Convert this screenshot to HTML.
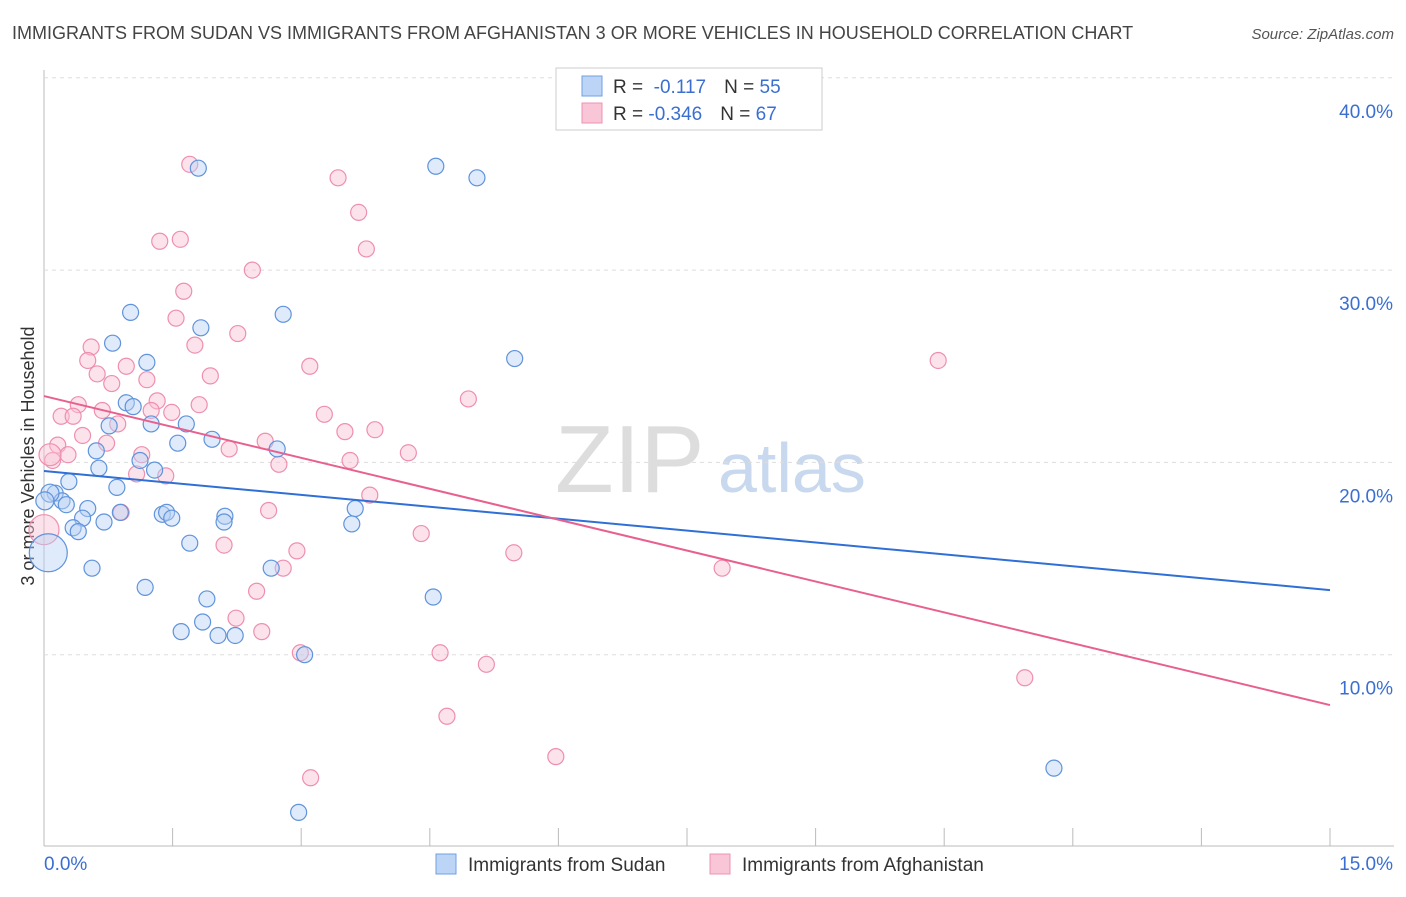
<!DOCTYPE html>
<html><head><meta charset="utf-8"><style>
body{margin:0;background:#fff;font-family:"Liberation Sans",sans-serif}
svg text{font-family:"Liberation Sans",sans-serif}
</style></head><body>
<svg id="c" width="1406" height="892">
<text x="12" y="39" font-size="18" fill="#444">IMMIGRANTS FROM SUDAN VS IMMIGRANTS FROM AFGHANISTAN 3 OR MORE VEHICLES IN HOUSEHOLD CORRELATION CHART</text>
<text x="1394" y="39" font-size="15" fill="#555" font-style="italic" text-anchor="end">Source: ZipAtlas.com</text>
<text x="0" y="0" transform="translate(34,456) rotate(-90)" font-size="18" fill="#333" text-anchor="middle">3 or more Vehicles in Household</text>
<text x="555" y="492" font-size="96" fill="#ddd" font-family="Liberation Serif">ZIP</text>
<text x="718" y="492" font-size="70" fill="#c8d8ee">atlas</text>
<g id="grid"></g><g id="marks"></g>
<g>
<rect x="556" y="68" width="266" height="62" fill="#fff" stroke="#ccc"/>
<rect x="582" y="76" width="20" height="20" fill="#bcd4f5" stroke="#6f9fe0"/>
<rect x="582" y="103" width="20" height="20" fill="#f8c6d6" stroke="#ee93b1"/>
<text x="613" y="93" font-size="19" fill="#333">R = <tspan fill="#3a6fd1">&#160;-0.117</tspan><tspan dx="18" fill="#333">N = </tspan><tspan fill="#3a6fd1">55</tspan></text>
<text x="613" y="120" font-size="19" fill="#333">R = <tspan fill="#3a6fd1">-0.346</tspan><tspan dx="18" fill="#333">N = </tspan><tspan fill="#3a6fd1">67</tspan></text>
</g>
<g>
<rect x="436" y="854" width="20" height="20" fill="#bcd4f5" stroke="#6f9fe0"/>
<text x="468" y="871" font-size="19" fill="#333">Immigrants from Sudan</text>
<rect x="710" y="854" width="20" height="20" fill="#f8c6d6" stroke="#ee93b1"/>
<text x="742" y="871" font-size="19" fill="#333">Immigrants from Afghanistan</text>
</g>
</svg>
<script>
const xTicks=[0,1.5,3,4.5,6,7.5,9,10.5,12,13.5,15];
const yTicks=[10,20,30,40];
const sudanX=[1.80,4.57,5.05,1.01,2.79,0.80,1.83,1.20,5.49,0.96,1.04,0.76,1.25,1.66,1.96,1.56,2.72,0.61,1.12,0.64,1.29,0.29,0.85,0.13,0.21,0.26,0.51,0.45,0.89,1.38,1.43,1.49,2.11,2.10,3.63,3.59,0.34,0.40,0.70,1.70,0.56,2.65,1.18,1.90,4.54,1.60,1.85,2.03,2.23,3.04,11.78,2.97,0.05,0.07,0.01];
const sudanY=[35.3,35.4,34.8,27.8,27.7,26.2,27.0,25.2,25.4,23.1,22.9,21.9,22.0,22.0,21.2,21.0,20.7,20.6,20.1,19.7,19.6,19.0,18.7,18.4,18.0,17.8,17.6,17.1,17.4,17.3,17.4,17.1,17.2,16.9,17.6,16.8,16.6,16.4,16.9,15.8,14.5,14.5,13.5,12.9,13.0,11.2,11.7,11.0,11.0,10.0,4.1,1.8,15.3,18.4,18.0];
const sudanR=[8,8,8,8,8,8,8,8,8,8,8,8,8,8,8,8,8,8,8,8,8,8,8,8,8,8,8,8,8,8,8,8,8,8,8,8,8,8,8,8,8,8,8,8,8,8,8,8,8,8,8,8,19,9,9];
const afgX=[1.70,3.43,3.67,1.35,1.59,3.76,2.43,1.63,1.54,2.26,1.76,0.55,0.51,0.96,3.10,10.43,0.62,1.94,1.20,0.79,4.95,1.32,0.40,1.81,0.68,1.25,1.49,0.20,0.34,3.27,0.86,3.51,3.86,0.45,2.58,0.73,0.16,2.16,4.25,0.28,1.14,0.10,3.57,2.74,1.08,1.42,3.80,0.90,2.62,4.40,2.10,2.95,5.48,2.79,7.91,2.48,2.24,2.54,2.99,4.62,5.16,11.44,4.70,5.97,3.11,0,0.07];
const afgY=[35.5,34.8,33.0,31.5,31.6,31.1,30.0,28.9,27.5,26.7,26.1,26.0,25.3,25.0,25.0,25.3,24.6,24.5,24.3,24.1,23.3,23.2,23.0,23.0,22.7,22.7,22.6,22.4,22.4,22.5,22.0,21.6,21.7,21.4,21.1,21.0,20.9,20.7,20.5,20.4,20.4,20.1,20.1,19.9,19.4,19.3,18.3,17.4,17.5,16.3,15.7,15.4,15.3,14.5,14.5,13.3,11.9,11.2,10.1,10.1,9.5,8.8,6.8,4.7,3.6,16.5,20.4];
const afgR=[8,8,8,8,8,8,8,8,8,8,8,8,8,8,8,8,8,8,8,8,8,8,8,8,8,8,8,8,8,8,8,8,8,8,8,8,8,8,8,8,8,8,8,8,8,8,8,8,8,8,8,8,8,8,8,8,8,8,8,8,8,8,8,8,8,15,11];
const sudanTrend=[19.55,13.36];
const afgTrend=[23.45,7.38];
const NS="http://www.w3.org/2000/svg";
const X=v=>44+v*(1286/15), Y=v=>847-v*19.23;
function mk(t,a,p){const e=document.createElementNS(NS,t);for(const k in a)e.setAttribute(k,a[k]);p.appendChild(e);return e;}
const g=document.getElementById('grid'), m=document.getElementById('marks');
mk('line',{x1:44,y1:70,x2:44,y2:846,stroke:'#bbb'},g);
mk('line',{x1:44,y1:846,x2:1394,y2:846,stroke:'#bbb'},g);
yTicks.forEach(t=>{
 const l=mk('line',{x1:44,y1:Y(t),x2:1394,y2:Y(t),stroke:'#ddd','stroke-dasharray':'4,4'},g);
 
 
 const tx=mk('text',{x:1393,y:Y(t)+40,'font-size':19,fill:'#3a6fd1','text-anchor':'end'},g);
 tx.textContent=t.toFixed(1)+'%';
 
 
});
xTicks.forEach(t=>{
 const l=mk('line',{x1:X(t),y1:828,x2:X(t),y2:846,stroke:'#bbb'},g);
 
 
});
[[0,'0.0%','start',44],[15,'15.0%','end',1393]].forEach(a=>{
 const tx=mk('text',{x:a[3],y:870,'font-size':19,fill:'#3a6fd1','text-anchor':a[2]},g);
 tx.textContent=a[1];
 
 
});
function pts(xs,ys,rs,fill,stroke,name){
 xs.forEach((x,i)=>{
  const c=mk('circle',{cx:X(x),cy:Y(ys[i]),r:rs[i],fill:fill,'fill-opacity':0.45,stroke:stroke,'stroke-width':1.2},m);
  
  
 });
}
pts(afgX,afgY,afgR,'#f8c0d2','#ee8fae','afghanistan-point');
pts(sudanX,sudanY,sudanR,'#b9d1f4','#5f93dc','sudan-point');
const l1=mk('line',{x1:X(0),y1:Y(sudanTrend[0]),x2:X(15),y2:Y(sudanTrend[1]),stroke:'#2f6fd6','stroke-width':2},m);


const l2=mk('line',{x1:X(0),y1:Y(afgTrend[0]),x2:X(15),y2:Y(afgTrend[1]),stroke:'#e8608e','stroke-width':2},m);


</script>
</body></html>
